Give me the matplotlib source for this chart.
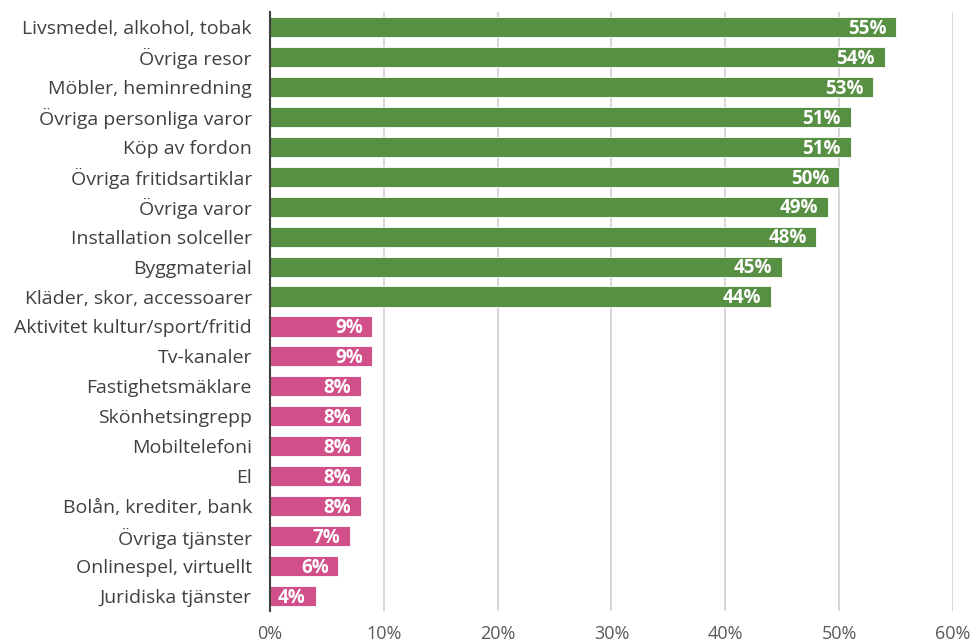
import matplotlib
matplotlib.use("Agg")
import matplotlib.pyplot as plt
from matplotlib.ticker import FuncFormatter

categories = ["Livsmedel, alkohol, tobak", "Övriga resor", "Möbler, heminredning",
              "Övriga personliga varor", "Köp av fordon", "Övriga fritidsartiklar",
              "Övriga varor", "Installation solceller", "Byggmaterial",
              "Kläder, skor, accessoarer", "Aktivitet kultur/sport/fritid", "Tv-kanaler",
              "Fastighetsmäklare", "Skönhetsingrepp", "Mobiltelefoni", "El",
              "Bolån, krediter, bank", "Övriga tjänster", "Onlinespel, virtuellt",
              "Juridiska tjänster"]
values = [55, 54, 53, 51, 51, 50, 49, 48, 45, 44, 9, 9, 8, 8, 8, 8, 8, 7, 6, 4]
groups = ["varor"] * 10 + ["tjänster"] * 10
xticks = [0, 10, 20, 30, 40, 50, 60]

colors = {"varor": "#578F43", "tjänster": "#D2508A"}

plt.rcParams['font.family'] = ['Open Sans', 'DejaVu Sans']

fig = plt.figure(figsize=(9.73, 6.41), dpi=100)
ax = fig.add_axes([0.2775, 0.0468, 0.7019, 0.9345])

ypos = list(range(len(categories)))
bars = ax.barh(ypos, values, height=0.67, color=[colors[g] for g in groups],
               edgecolor="white", linewidth=0.6, zorder=3)
for y, v in zip(ypos, values):
    ax.text(v - 0.85, y + 0.06, f"{v}%", ha="right", va="center", color="white",
            fontsize=13.5, fontweight="bold", zorder=4)

ax.set_ylim(len(categories) - 0.5, -0.5)
ax.set_xlim(0, 60)
ax.set_yticks(ypos)
ax.set_yticklabels(categories, fontsize=14, color="#404040")
ax.set_xticks(xticks)
ax.xaxis.set_major_formatter(FuncFormatter(lambda x, p: f"{int(x)}%"))
ax.tick_params(axis="x", labelsize=13, labelcolor="#595959", length=0, pad=10)
ax.tick_params(axis="y", length=0, pad=13)
ax.grid(axis="x", color="#D0D0D0", linewidth=1.2, zorder=0)
for s in ["top", "right", "bottom"]:
    ax.spines[s].set_visible(False)
ax.spines["left"].set_color("#404040")
ax.spines["left"].set_linewidth(1.5)
ax.spines["left"].set_zorder(5)

fig.savefig("out.png", dpi=100)
